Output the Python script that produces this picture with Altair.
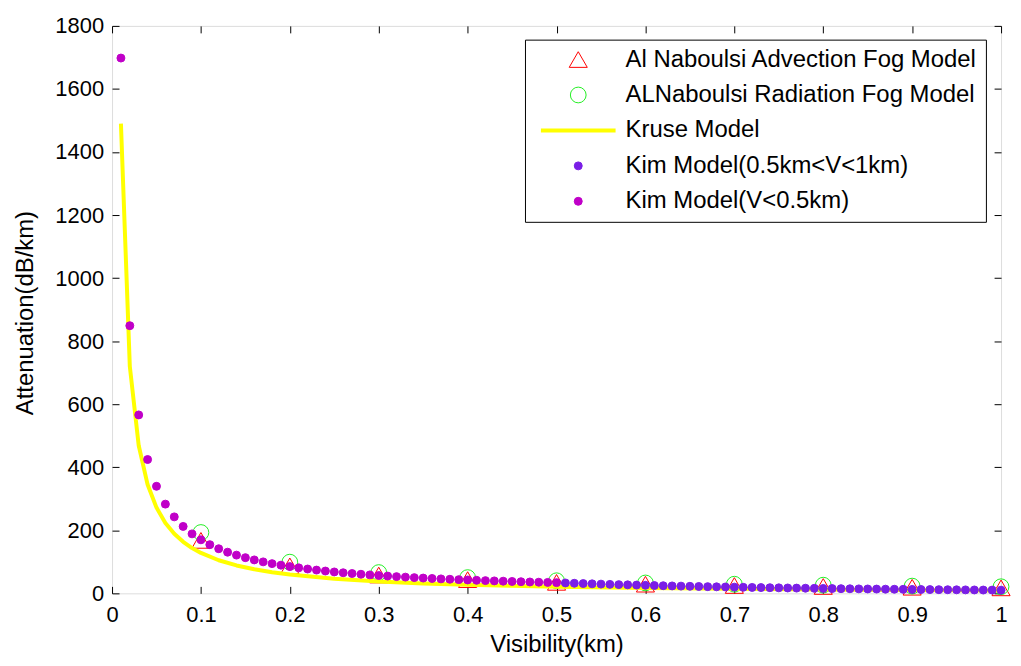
import altair as alt
import pandas as pd

# ---------------- data ----------------
V_KIM_LOW = [0.01, 0.02, 0.03, 0.04, 0.05, 0.06, 0.07, 0.08, 0.09, 0.10,
             0.11, 0.12, 0.13, 0.14, 0.15, 0.16, 0.17, 0.18, 0.19, 0.20,
             0.21, 0.22, 0.23, 0.24, 0.25, 0.26, 0.27, 0.28, 0.29, 0.30,
             0.31, 0.32, 0.33, 0.34, 0.35, 0.36, 0.37, 0.38, 0.39, 0.40,
             0.41, 0.42, 0.43, 0.44, 0.45, 0.46, 0.47, 0.48, 0.49, 0.50]
ATT_KIM_LOW = [1698, 849, 566, 424.5, 339.6, 283, 242.6, 212.3, 188.7, 169.8,
               154.4, 141.5, 130.6, 121.3, 113.2, 106.1, 99.9, 94.3, 89.4, 84.9,
               80.9, 77.2, 73.8, 70.8, 67.9, 65.3, 62.9, 60.6, 58.6, 56.6,
               54.8, 53.1, 51.5, 49.9, 48.5, 47.2, 45.9, 44.7, 43.5, 42.5,
               41.4, 40.4, 39.5, 38.6, 37.7, 36.9, 36.1, 35.4, 34.7, 34.0]

V_KIM_HIGH = [0.51, 0.52, 0.53, 0.54, 0.55, 0.56, 0.57, 0.58, 0.59, 0.60,
              0.61, 0.62, 0.63, 0.64, 0.65, 0.66, 0.67, 0.68, 0.69, 0.70,
              0.71, 0.72, 0.73, 0.74, 0.75, 0.76, 0.77, 0.78, 0.79, 0.80,
              0.81, 0.82, 0.83, 0.84, 0.85, 0.86, 0.87, 0.88, 0.89, 0.90,
              0.91, 0.92, 0.93, 0.94, 0.95, 0.96, 0.97, 0.98, 0.99, 1.00]
ATT_KIM_HIGH = [32.95, 31.98, 31.06, 30.17, 29.31, 28.49, 27.71, 26.95, 26.22, 25.51,
                24.84, 24.18, 23.55, 22.95, 22.36, 21.80, 21.25, 20.72, 20.21, 19.72,
                19.24, 18.77, 18.33, 17.89, 17.47, 17.06, 16.67, 16.29, 15.91, 15.55,
                15.20, 14.86, 14.53, 14.21, 13.90, 13.60, 13.30, 13.02, 12.74, 12.46,
                12.20, 11.94, 11.69, 11.45, 11.21, 10.98, 10.76, 10.54, 10.32, 10.11]

V_NAB = [0.1, 0.2, 0.3, 0.4, 0.5, 0.6, 0.7, 0.8, 0.9, 1.0]
ATT_ADVECTION = [168, 87.2, 58.1, 43.6, 34.9, 29.1, 24.9, 21.8, 19.4, 17.4]
ATT_RADIATION = [193, 99, 66, 50, 40, 33, 29, 26, 23, 21]

V_KRUSE = [0.01, 0.02, 0.03, 0.04, 0.05, 0.06, 0.07, 0.08, 0.09, 0.10,
           0.12, 0.14, 0.16, 0.18, 0.20, 0.25, 0.30, 0.35, 0.40, 0.45,
           0.50, 0.60, 0.70, 0.80, 0.90, 1.00]
ATT_KRUSE = [1490, 720, 469, 345, 272, 223, 189, 163.5, 143.8, 128.2,
             105, 88.5, 76.4, 67.0, 59.6, 46.4, 37.7, 31.6, 27.2, 23.7,
             21.0, 17.0, 14.2, 12.1, 10.5, 9.26]

X_TICKS = [0, 0.1, 0.2, 0.3, 0.4, 0.5, 0.6, 0.7, 0.8, 0.9, 1]
Y_TICKS = [0, 200, 400, 600, 800, 1000, 1200, 1400, 1600, 1800]

SERIES = ["Al Naboulsi Advection Fog Model", "ALNaboulsi Radiation Fog Model",
          "Kruse Model", "Kim Model(0.5km<V<1km)", "Kim Model(V<0.5km)"]

# ---------------- styles ----------------
STROKES = ["#ff0000", "#22ee22", "#ffff00", "#7a1ee6", "#c000c8"]
FILLS = ["transparent", "transparent", "transparent", "#7a1ee6", "#c000c8"]
SHAPES = ["triangle-up", "circle", "stroke", "circle", "circle"]
SIZES = [330, 250, 5625, 64, 64]
WIDTHS = [1, 1, 4, 1, 1]

FONT = "Liberation Sans"
W, H = 893, 570

# ---------------- tables ----------------
nab_df = pd.concat([
    pd.DataFrame({"v": V_NAB, "a": ATT_ADVECTION, "series": SERIES[0]}),
    pd.DataFrame({"v": V_NAB, "a": ATT_RADIATION, "series": SERIES[1]}),
], ignore_index=True)
kruse_df = pd.DataFrame({"v": V_KRUSE, "a": ATT_KRUSE, "series": SERIES[2]})
kim_df = pd.concat([
    pd.DataFrame({"v": V_KIM_HIGH, "a": ATT_KIM_HIGH, "series": SERIES[3]}),
    pd.DataFrame({"v": V_KIM_LOW, "a": ATT_KIM_LOW, "series": SERIES[4]}),
], ignore_index=True)

xscale = alt.Scale(domain=[0, 1], nice=False, zero=False)
yscale = alt.Scale(domain=[0, 1800], nice=False, zero=False)

legend = alt.Legend(
    title=None, orient="none", legendX=414.8, legendY=13.8,
    strokeColor="black", fillColor="white", padding=8,
    symbolOffset=6, labelOffset=8, clipHeight=24, rowPadding=11.6,
    labelFont=FONT, labelFontSize=24, labelColor="black", labelLimit=0,
    symbolOpacity=1, cornerRadius=0,
)

stroke = alt.Stroke("series:N", scale=alt.Scale(domain=SERIES, range=STROKES), legend=legend)
fill = alt.Fill("series:N", scale=alt.Scale(domain=SERIES, range=FILLS), legend=legend)
shape = alt.Shape("series:N", scale=alt.Scale(domain=SERIES, range=SHAPES), legend=legend)
size = alt.Size("series:N", scale=alt.Scale(type="ordinal", domain=SERIES, range=SIZES), legend=legend)
swidth = alt.StrokeWidth("series:N", scale=alt.Scale(type="ordinal", domain=SERIES, range=WIDTHS),
                         legend=legend)

common_tick = dict(labels=False, ticks=True, tickSize=7, tickColor="black", tickWidth=1,
                   domain=False, grid=False, title=None)

x_main = alt.Axis(orient="bottom", values=X_TICKS, format="~g", labelFont=FONT, labelFontSize=22,
                  labelColor="black", labelBaseline="alphabetic", labelPadding=28.5,
                  ticks=False, tickSize=0, domain=False, grid=False, labelFlush=False,
                  labelOverlap=False, title="Visibility(km)", titleFont=FONT, titleFontSize=24,
                  titleFontWeight="normal", titleColor="black", titleBaseline="alphabetic",
                  titleY=58.5)
y_main = alt.Axis(orient="left", values=Y_TICKS, format="d", labelFont=FONT, labelFontSize=22,
                  labelColor="black", labelPadding=8.5, ticks=False, tickSize=0, domain=False,
                  grid=False, labelFlush=False, labelOverlap=False,
                  title="Attenuation(dB/km)", titleFont=FONT, titleFontSize=24,
                  titleFontWeight="normal", titleColor="black", titleAngle=270,
                  titleBaseline="alphabetic", titleX=-79.5, titleY=288)

x_tick_bottom = alt.Axis(orient="top", offset=-H, values=X_TICKS, **common_tick)
x_tick_top = alt.Axis(orient="bottom", offset=-H, values=X_TICKS, **common_tick)
y_tick_left = alt.Axis(orient="right", offset=-W, values=Y_TICKS, **common_tick)
y_tick_right = alt.Axis(orient="left", offset=-W, values=Y_TICKS, **common_tick)

nab_layer = alt.Chart(nab_df).mark_point(filled=True, opacity=1).encode(
    x=alt.X("v:Q", scale=xscale, axis=x_tick_bottom),
    y=alt.Y("a:Q", scale=yscale, axis=y_tick_left),
    stroke=stroke, fill=fill, shape=shape, size=size, strokeWidth=swidth,
)
kruse_layer = alt.Chart(kruse_df).mark_line(opacity=1, strokeJoin="round").encode(
    x=alt.X("v:Q", scale=xscale, axis=x_main),
    y=alt.Y("a:Q", scale=yscale, axis=y_main),
    stroke=stroke, strokeWidth=swidth,
)
kim_layer = alt.Chart(kim_df).mark_point(filled=True, opacity=1).encode(
    x=alt.X("v:Q", scale=xscale, axis=x_tick_top),
    y=alt.Y("a:Q", scale=yscale, axis=y_tick_right),
    stroke=stroke, fill=fill, shape=shape, size=size, strokeWidth=swidth,
)

chart = alt.layer(nab_layer, kruse_layer, kim_layer).resolve_axis(
    x="independent", y="independent"
).properties(
    width=W, height=H,
    padding={"left": 104.5, "top": 16.5, "right": 12, "bottom": 72},
    autosize=alt.AutoSizeParams(type="none"),
).configure_view(stroke="black", strokeWidth=1).configure(background="white")

chart.save("out.html", embed_options={"renderer": "svg", "actions": False})
